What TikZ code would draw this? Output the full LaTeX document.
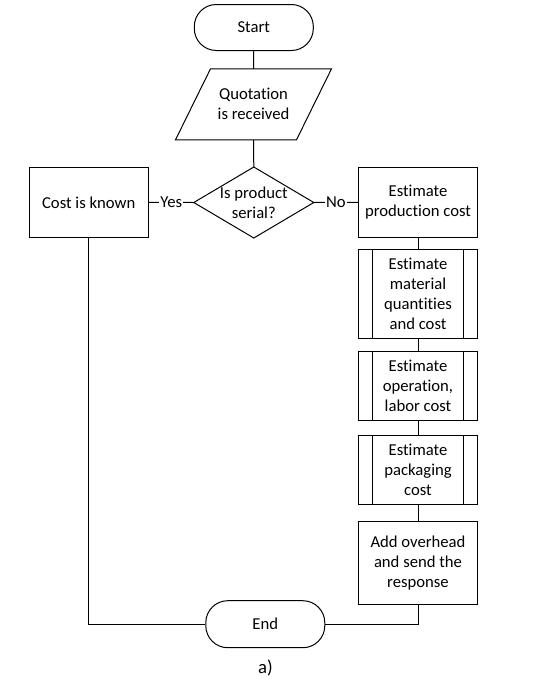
\documentclass[tikz,border=0pt]{standalone}
\usepackage{fontspec}
\setmainfont{Carlito}[Ligatures=NoCommon]
\usetikzlibrary{calc}
\begin{document}
\begin{tikzpicture}[x=0.75pt,y=-0.75pt,
  line width=0.75pt,
  every node/.style={font=\fontsize{12.5}{15}\selectfont, align=center, inner sep=0pt},
  term/.style={draw, rounded corners=16.5pt, minimum width=89.25pt, minimum height=34.5pt},
  proc/.style={draw, minimum width=89.25pt, minimum height=#1},
  ghost/.style={minimum width=#1, minimum height=52.5pt},
  sub/.style={draw, minimum width=89.25pt, minimum height=#1,
    path picture={
      \draw ([xshift=10.75pt]path picture bounding box.north west) -- ([xshift=10.75pt]path picture bounding box.south west);
      \draw ([xshift=-10.5pt]path picture bounding box.north east) -- ([xshift=-10.5pt]path picture bounding box.south east);
    }},
  lab/.style={fill=white, inner sep=1pt}
]
\useasboundingbox (0,0) rectangle (533,679);

\node[term] (start) at (253.8,27.5) {Start};
\node[ghost=90pt] (q) at (253.5,104.3) {Quotation\\is received};
\draw ($(q.north west)+(17.5,0)$) -- ($(q.north east)+(17.5,0)$) -- ($(q.south east)+(-17.5,0)$) -- ($(q.south west)+(-17.5,0)$) -- cycle;
\node[ghost=89.25pt] (d) at (253.8,202.5) {Is product\\serial?};
\draw (d.west) -- (d.north) -- (d.east) -- (d.south) -- cycle;

\node[proc=52.5pt] (cost) at (88.7,202.3) {Cost is known};
\node[proc=52.5pt] (prod) at (418,202.3) {Estimate\\production cost};
\node[sub=66.75pt] (mat) at (418,293.8) {Estimate\\material\\quantities\\and cost};
\node[sub=51.75pt] (op) at (418,386.3) {Estimate\\operation,\\labor cost};
\node[sub=51.75pt] (pack) at (418,470.3) {Estimate\\packaging\\cost};
\node[proc=62.25pt] (add) at (418,563.3) {Add overhead\\and send the\\response};
\node[term, minimum height=35.25pt] (end) at (265.3,624.2) {End};
\node[font=\fontsize{14}{16}\selectfont] (cap) at (265.5,668) {a)};

\draw (start) -- (q);
\draw (q.south) -- (d.north);
\draw (d.west) -- node[lab] {Yes} (cost.east);
\draw (d.east) -- node[lab] {No} (prod.west);
\draw (prod) -- (mat);
\draw (mat) -- (op);
\draw (op) -- (pack);
\draw (pack) -- (add);
\draw (cost.south) |- (end.west);
\draw (add.south) |- (end.east);
\end{tikzpicture}
\end{document}
